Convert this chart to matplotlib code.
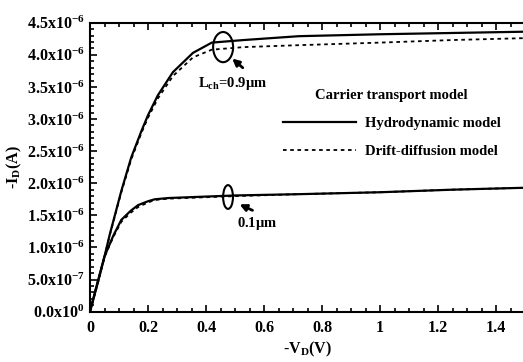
import numpy as np
import matplotlib
matplotlib.use("Agg")
import matplotlib.pyplot as plt
from matplotlib.patches import Ellipse
from matplotlib.ticker import MultipleLocator

plt.rcParams['font.family'] = 'Liberation Serif'
plt.rcParams['font.weight'] = 'bold'
plt.rcParams['axes.labelweight'] = 'bold'
plt.rcParams['mathtext.fontset'] = 'custom'
plt.rcParams['mathtext.rm'] = 'Liberation Serif:bold'
plt.rcParams['mathtext.bf'] = 'Liberation Serif:bold'
plt.rcParams['mathtext.it'] = 'Liberation Serif:bold'
plt.rcParams['mathtext.default'] = 'bf'

# Lch = 0.9 um
v09 = [0, 0.022, 0.05, 0.068, 0.108, 0.142, 0.177, 0.2, 0.234, 0.286, 0.355, 0.42, 0.53,
       0.72, 1.0, 1.25, 1.5]
i09_hd = [0, 0.39, 0.86, 1.20, 1.88, 2.40, 2.81, 3.06, 3.37, 3.73, 4.03, 4.19, 4.23,
          4.29, 4.32, 4.34, 4.36]
i09_dd = [0, 0.39, 0.86, 1.19, 1.86, 2.37, 2.78, 3.02, 3.32, 3.67, 3.96, 4.08, 4.12,
          4.15, 4.19, 4.23, 4.26]

# Lch = 0.1 um
v01 = [0, 0.028, 0.05, 0.08, 0.108, 0.14, 0.166, 0.2, 0.223, 0.27, 0.5, 0.72,
       1.0, 1.25, 1.5]
i01_hd = [0, 0.47, 0.86, 1.18, 1.43, 1.57, 1.66, 1.72, 1.75, 1.77, 1.81, 1.83,
          1.86, 1.90, 1.93]
i01_dd = [0, 0.46, 0.85, 1.16, 1.40, 1.54, 1.63, 1.70, 1.74, 1.76, 1.80, 1.83,
          1.86, 1.90, 1.93]

yticks = [0, 0.5, 1.0, 1.5, 2.0, 2.5, 3.0, 3.5, 4.0, 4.5]
ylabels = [r'$0.0x10^{0}$', r'$5.0x10^{-7}$', r'$1.0x10^{-6}$', r'$1.5x10^{-6}$',
           r'$2.0x10^{-6}$', r'$2.5x10^{-6}$', r'$3.0x10^{-6}$', r'$3.5x10^{-6}$',
           r'$4.0x10^{-6}$', r'$4.5x10^{-6}$']
xticks = [0, 0.2, 0.4, 0.6, 0.8, 1.0, 1.2, 1.4]
xlabels = ['0', '0.2', '0.4', '0.6', '0.8', '1', '1.2', '1.4']

fig = plt.figure(figsize=(5.23, 3.62), dpi=100)
ax = fig.add_axes([90/523, 50.3/362, 435/523, 289/362])

ax.plot(v09, i09_hd, color='black', lw=1.6, label='Hydrodynamic model')
ax.plot(v09, i09_dd, color='black', lw=1.3, ls=(0, (2, 2)), label='Drift-diffusion model')
ax.plot(v01, i01_hd, color='black', lw=1.6)
ax.plot(v01, i01_dd, color='black', lw=1.3, ls=(0, (2, 2)))

ax.set_xlim(0, 1.5)
ax.set_ylim(0, 4.5)
ax.set_xticks(xticks)
ax.set_xticklabels(xlabels)
ax.set_yticks(yticks)
ax.set_yticklabels(ylabels)
ax.xaxis.set_minor_locator(MultipleLocator(0.05))
ax.yaxis.set_minor_locator(MultipleLocator(0.1))
ax.tick_params(which='both', direction='in', top=True, right=False, width=1.2)
ax.tick_params(which='major', length=5, labelsize=11.5)
ax.tick_params(which='minor', length=3)
ax.tick_params(axis='y', pad=4)
ax.tick_params(axis='x', pad=6)
for s in ax.spines.values():
    s.set_linewidth(1.5)

ax.set_xlabel(r'-V$_{D}$(V)', fontsize=11.5, labelpad=3)
ax.set_ylabel(r'-I$_{D}$(A)', fontsize=11.5, labelpad=2)

# annotations
ax.add_patch(Ellipse((0.459, 4.12), 0.069, 0.47, fill=False, lw=1.5, color='black'))
ax.annotate('', xy=(0.483, 3.97), xytext=(0.534, 3.77),
            arrowprops=dict(arrowstyle='-|>', color='black', lw=2, mutation_scale=10))
ax.text(0.372, 3.55, r'L$_{ch}$=0.9$\mu$m', fontsize=10.5, va='center', ha='left')

ax.add_patch(Ellipse((0.476, 1.786), 0.034, 0.37, fill=False, lw=1.5, color='black'))
ax.annotate('', xy=(0.507, 1.69), xytext=(0.569, 1.56),
            arrowprops=dict(arrowstyle='-|>', color='black', lw=2, mutation_scale=10))
ax.text(0.507, 1.38, r'0.1$\mu$m', fontsize=10.5, va='center', ha='left')

leg = ax.legend(loc='upper left', bbox_to_anchor=(0.4437, 0.77), frameon=False,
                title='Carrier transport model', fontsize=10.5, title_fontsize=10.5,
                handlelength=5, handletextpad=0.6, labelspacing=1.0,
                borderpad=0, borderaxespad=0)
leg.get_title().set_fontweight('bold')

fig.savefig('out.png', dpi=100)
